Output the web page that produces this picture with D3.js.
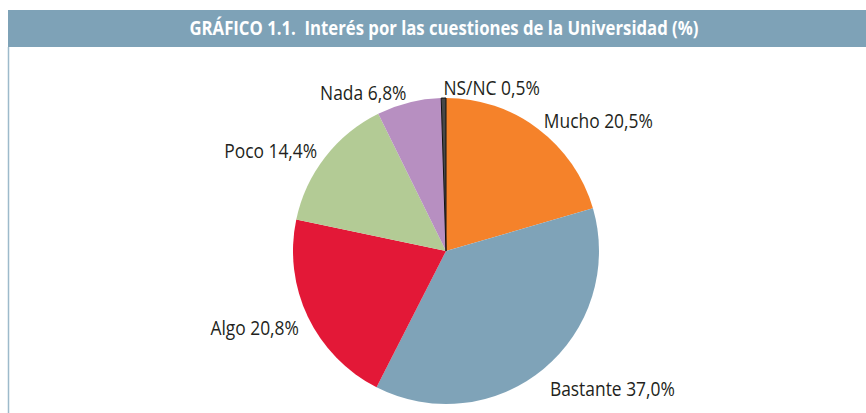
<!DOCTYPE html>
<html>
<head>
<meta charset="utf-8">
<script src="https://cdn.jsdelivr.net/npm/d3@7"></script>
<style>
  html, body { margin: 0; padding: 0; background: #fff; }
  text { font-family: "Open Sans", sans-serif; white-space: pre; }
</style>
</head>
<body>
<div id="chart"></div>
<script>
const title = "GRÁFICO 1.1.  Interés por las cuestiones de la Universidad (%)";
const categories = ["Mucho", "Bastante", "Algo", "Poco", "Nada", "NS/NC"];
const values = [20.5, 37.0, 20.8, 14.4, 6.8, 0.5];
const colors = ["#f5822a", "#7fa3b8", "#e31837", "#b3cb95", "#b78fc1", "#474747"];

const width = 866, height = 413;
const cx = 446, cy = 251, radius = 153;

const svg = d3.select("#chart").append("svg")
  .attr("width", width)
  .attr("height", height);

// header band + frame
svg.append("rect")
  .attr("x", 8).attr("y", 10)
  .attr("width", width - 8).attr("height", 37)
  .attr("fill", "#7ea2b7");
svg.append("line")
  .attr("x1", 8.5).attr("x2", 8.5)
  .attr("y1", 47).attr("y2", height)
  .attr("stroke", "#9dbacb").attr("stroke-width", 1.5);

// narrow the glyphs a bit, the original face is condensed
const squeeze = (sel, k) => sel.each(function () {
  const w = this.getComputedTextLength();
  d3.select(this).attr("textLength", w * k).attr("lengthAdjust", "spacingAndGlyphs");
});

svg.append("text")
  .attr("x", 444).attr("y", 35)
  .attr("text-anchor", "middle")
  .attr("fill", "#fff")
  .attr("font-weight", "bold")
  .attr("font-size", 19)
  .text(title)
  .call(squeeze, 0.88);

// pie
const data = categories.map((c, i) => ({ name: c, value: values[i], color: colors[i] }));
const pie = d3.pie().value((d) => d.value).sort(null);
const arc = d3.arc().innerRadius(0).outerRadius(radius);
const arcs = pie(data);

const g = svg.append("g").attr("transform", `translate(${cx},${cy})`);

g.selectAll("path")
  .data(arcs)
  .enter()
  .append("path")
  .attr("d", arc)
  .attr("fill", (d) => d.data.color)
  .attr("stroke", (d) => (d.data.name === "NS/NC" ? "#111" : "none"))
  .attr("stroke-width", 1);

// labels outside the slices
const labelR = 163;
const fmt = (v) => v.toFixed(1).replace(".", ",") + "%";
g.selectAll(".lbl")
  .data(arcs)
  .enter()
  .append("text")
  .attr("class", "lbl")
  .attr("font-size", 20)
  .attr("fill", "#231f20")
  .attr("text-anchor", (d) => {
    const a = (d.startAngle + d.endAngle) / 2;
    return Math.sin(a) >= -0.05 ? "start" : "end";
  })
  .attr("x", (d) => {
    const a = (d.startAngle + d.endAngle) / 2;
    return labelR * Math.sin(a);
  })
  .attr("y", (d) => {
    const a = (d.startAngle + d.endAngle) / 2;
    const c = Math.cos(a);
    return -labelR * c + (c < 0 ? -c * 16 : 0) + 7;
  })
  .text((d) => `${d.data.name} ${fmt(d.data.value)}`)
  .call(squeeze, 0.87);
</script>
</body>
</html>
